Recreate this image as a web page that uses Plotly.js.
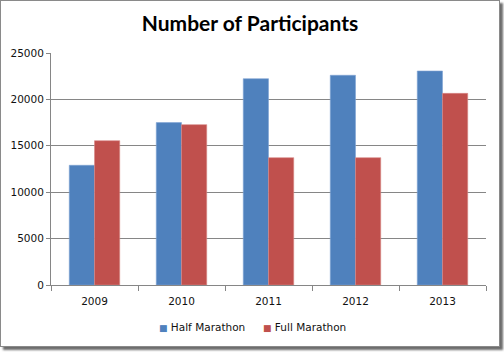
<!DOCTYPE html>
<html>
<head>
<meta charset="utf-8">
<script src="https://cdn.plot.ly/plotly-3.0.1.min.js"></script>
<style>
  html, body { margin: 0; padding: 0; background: #ffffff; }
  #frame {
    position: absolute; left: 0; top: 0;
    width: 500px; height: 347px;
    box-sizing: border-box;
    border: 1px solid #8a8a8a;
    box-shadow: 3px 3px 2px rgba(60,60,60,0.75);
    background: #ffffff;
  }
  #chart { width: 498px; height: 345px; }
</style>
</head>
<body>
<div id="frame"><div id="chart"></div></div>
<script>
// Participants per year, by race
const years = ['2009', '2010', '2011', '2012', '2013'];
const halfMarathon = [12900, 17500, 22230, 22600, 23060];
const fullMarathon = [15550, 17280, 13720, 13720, 20650];
const yTicks = [0, 5000, 10000, 15000, 20000, 25000];
const seriesNames = ['Half Marathon', 'Full Marathon'];
const seriesColors = ['#4F81BD', '#C0504D'];
const seriesEdges = ['#7FA3D4', '#D98886'];

const tickFont = { family: 'DejaVu Sans, Verdana, sans-serif', size: 10.5, color: '#111111' };

const traces = [halfMarathon, fullMarathon].map((vals, i) => ({
  type: 'bar', name: seriesNames[i], x: years, y: vals, showlegend: false,
  marker: { color: seriesColors[i], line: { color: seriesEdges[i], width: 0.6 } }
}));

// Compact legend: small colour square right next to each series name
const legendX = [0.2435, 0.4825];
const legendNotes = seriesNames.map((name, i) => ({
  xref: 'paper', yref: 'paper', x: legendX[i], y: -0.181,
  xanchor: 'left', yanchor: 'middle', showarrow: false,
  font: tickFont,
  text: '<span style="color:' + seriesColors[i] + ';font-size:9px">■</span> ' + name
}));

const layout = {
  width: 498, height: 345,
  margin: { l: 50, r: 13, t: 52, b: 61 },
  paper_bgcolor: '#ffffff', plot_bgcolor: '#ffffff',
  barmode: 'group', bargap: 0.42, bargroupgap: 0,
  showlegend: false,
  title: {
    text: '<b>Number of Participants</b>',
    font: { family: 'Lato, Calibri, sans-serif', size: 21, color: '#000000' },
    x: 0.5, xref: 'container', xanchor: 'center',
    y: 1 - 23 / 345, yref: 'container', yanchor: 'middle'
  },
  xaxis: {
    type: 'category',
    tickson: 'boundaries', ticks: 'outside', ticklen: 5, tickcolor: '#868686',
    showline: true, linecolor: '#868686', linewidth: 1,
    showgrid: false, tickfont: tickFont, ticklabelstandoff: 6,
    fixedrange: true
  },
  yaxis: {
    range: [0, 25000], tickvals: yTicks, ticktext: yTicks.map(String),
    ticks: 'outside', ticklen: 4, tickcolor: '#868686',
    showline: true, linecolor: '#868686', linewidth: 1,
    showgrid: true, gridcolor: '#868686', gridwidth: 1,
    zeroline: false, tickfont: tickFont, fixedrange: true
  },
  annotations: legendNotes
};

Plotly.newPlot('chart', traces, layout, { displayModeBar: false, staticPlot: true });
</script>
</body>
</html>
